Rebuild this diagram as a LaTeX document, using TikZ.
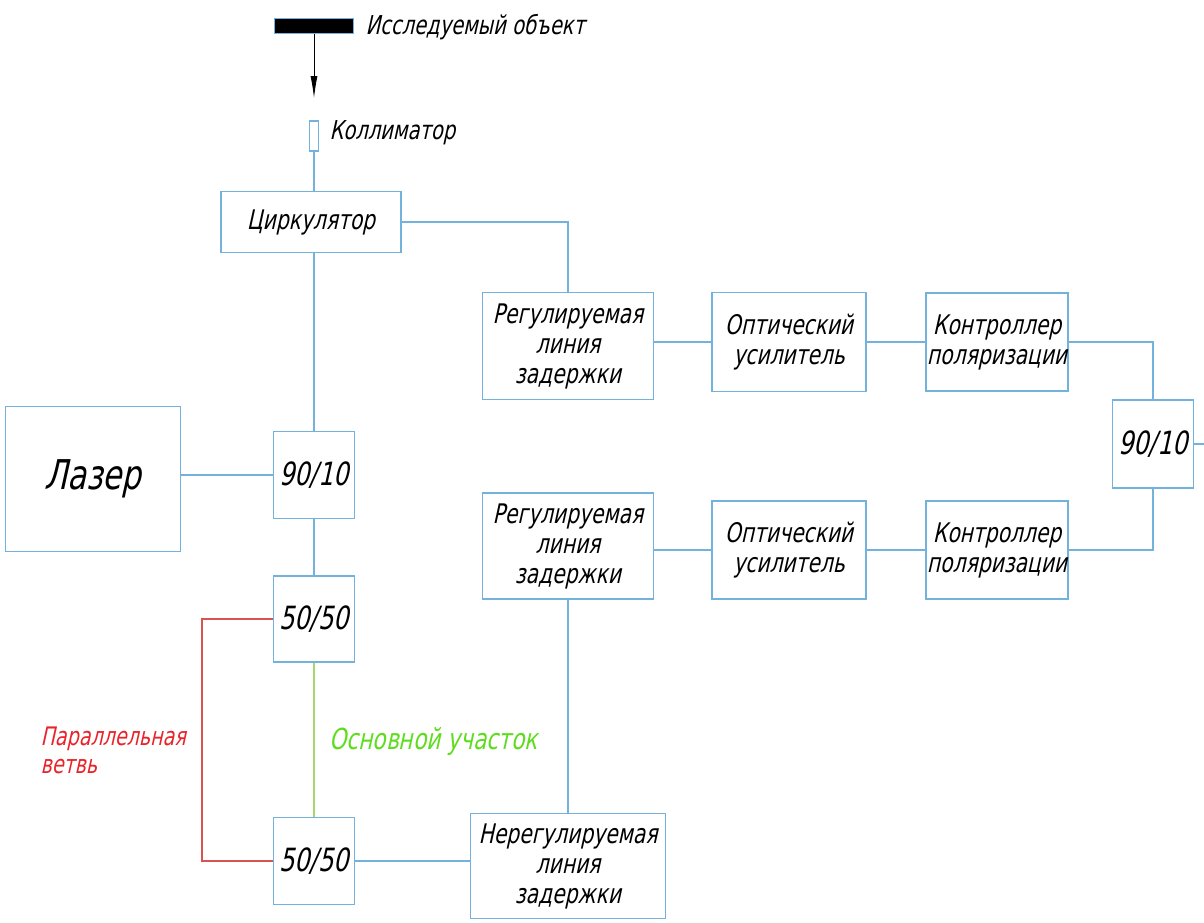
\documentclass[tikz,border=0pt]{standalone}
\usepackage{fontspec}
\setmainfont{DejaVu Sans}[FakeStretch=0.75, FakeSlant=0.22]
\usetikzlibrary{arrows.meta}
\definecolor{LineColor}{HTML}{72B2DC}
\definecolor{RedLine}{HTML}{D9534F}
\definecolor{RedText}{HTML}{E8242A}
\definecolor{GreenLine}{HTML}{A6D66E}
\definecolor{GreenText}{HTML}{5EDC1E}
\newcommand{\fs}[1]{\fontsize{#1}{30}\selectfont}
\tikzstyle{optic_element}=[rectangle,
                            draw=LineColor,
                            line width=1.2pt,
                            inner sep=0pt,
                            align=center,
                            font=\fs{27}, ]
\tikzstyle{fiber}=[draw=LineColor, line width=1.3pt]

\begin{document}
\begin{tikzpicture}[x=1pt, y=-1pt]
    \useasboundingbox (0, 0) rectangle (1204, 922);
    % ---------------------------------------------------------------------------------------------------------
    %  Object and collimator
    \node at (314, 26) (object) [rectangle, fill=black, draw=LineColor, line width=0.6pt, minimum width=79pt, minimum height=15pt, inner sep=0pt] {};
    \node at (362, 27) (object-label) [anchor=west, font=\fs{26}] {Исследуемый объект};
    \coordinate (beam) at (314, 98);
    \draw[-{Latex[length=22pt, width=7pt]}, line width=0.8pt] (object.south) -- (beam);

    \node at (314, 136) (coll) [optic_element, minimum width=9pt, minimum height=30pt] {};
    \node at (326, 133) (coll-label) [anchor=west, font=\fs{26}] {Коллиматор};

    \node at (311, 222) (circ) [optic_element, minimum width=180pt, minimum height=61pt] {Циркулятор};

    % ---------------------------------------------------------------------------------------------------------
    %  Laser and couplers
    \node at (93, 479) (laser) [optic_element, minimum width=175pt, minimum height=145pt, font=\fs{41}] {Лазер};
    \node at (314, 475) (C9010) [optic_element, minimum width=81pt, minimum height=87pt, font=\fs{32}] {90/10};
    \node at (314, 619) (C5050a) [optic_element, minimum width=81pt, minimum height=86pt, font=\fs{32}] {50/50};
    \node at (314, 861) (C5050b) [optic_element, minimum width=81pt, minimum height=87pt, font=\fs{32}] {50/50};
    \node at (568, 866) (fixdelay) [optic_element, minimum width=195pt, minimum height=105pt] {Нерегулируемая\\линия\\задержки};

    % ---------------------------------------------------------------------------------------------------------
    %  Upper and lower arms
    \node at (568, 346) (delay1) [optic_element, minimum width=171pt, minimum height=107pt] {Регулируемая\\линия\\задержки};
    \node at (789, 342) (amp1) [optic_element, minimum width=154pt, minimum height=99pt] {Оптический\\усилитель};
    \node at (997, 342) (pol1) [optic_element, minimum width=142pt, minimum height=98pt] {Контроллер\\поляризации};

    \node at (568, 546) (delay2) [optic_element, minimum width=171pt, minimum height=106pt] {Регулируемая\\линия\\задержки};
    \node at (789, 550) (amp2) [optic_element, minimum width=154pt, minimum height=98pt] {Оптический\\усилитель};
    \node at (997, 550) (pol2) [optic_element, minimum width=142pt, minimum height=98pt] {Контроллер\\поляризации};

    \node at (1153, 444) (C9010r) [optic_element, minimum width=81pt, minimum height=88pt, font=\fs{32}] {90/10};
    \coordinate (out) at (1204, 444);

    % ---------------------------------------------------------------------------------------------------------
    %  Fibers
    \draw[fiber] (coll.south) -- (coll.south |- circ.north);
    \draw[fiber] (circ.east) -| (delay1.north);
    \draw[fiber] (C9010.north |- circ.south) -- (C9010.north);
    \draw[fiber] (laser.east |- C9010.west) -- (C9010.west);
    \draw[fiber] (C9010.south) -- (C5050a.north);
    \draw[fiber] (C5050b.east) -- (C5050b.east -| fixdelay.west);
    \draw[fiber] (delay2.south) -- (fixdelay.north);

    \draw[fiber] (delay1.east |- amp1.west) -- (amp1.west);
    \draw[fiber] (amp1.east) -- (pol1.west);
    \draw[fiber] (pol1.east) -| (C9010r.north);
    \draw[fiber] (C9010r.east) -- (out);
    \draw[fiber] (C9010r.south) |- (pol2.east);
    \draw[fiber] (pol2.west) -- (amp2.east);
    \draw[fiber] (amp2.west) -- (amp2.west -| delay2.east);

    % ---------------------------------------------------------------------------------------------------------
    %  Parallel branch and main section
    \coordinate (branch) at (202, 740);
    \draw[draw=RedLine, line width=1.1pt] (C5050a.west) -| (branch) |- (C5050b.west);
    \draw[draw=GreenLine, line width=1.2pt] (C5050a.south) -- (C5050b.north);

    \node at (37, 750) (branch-label) [anchor=west, align=left, text=RedText, font=\fs{25.5}] {Параллельная\\[-2pt]ветвь};
    \node at (326, 741) (main-label) [anchor=west, text=GreenText, font=\fs{29}] {Основной участок};
\end{tikzpicture}
\end{document}
